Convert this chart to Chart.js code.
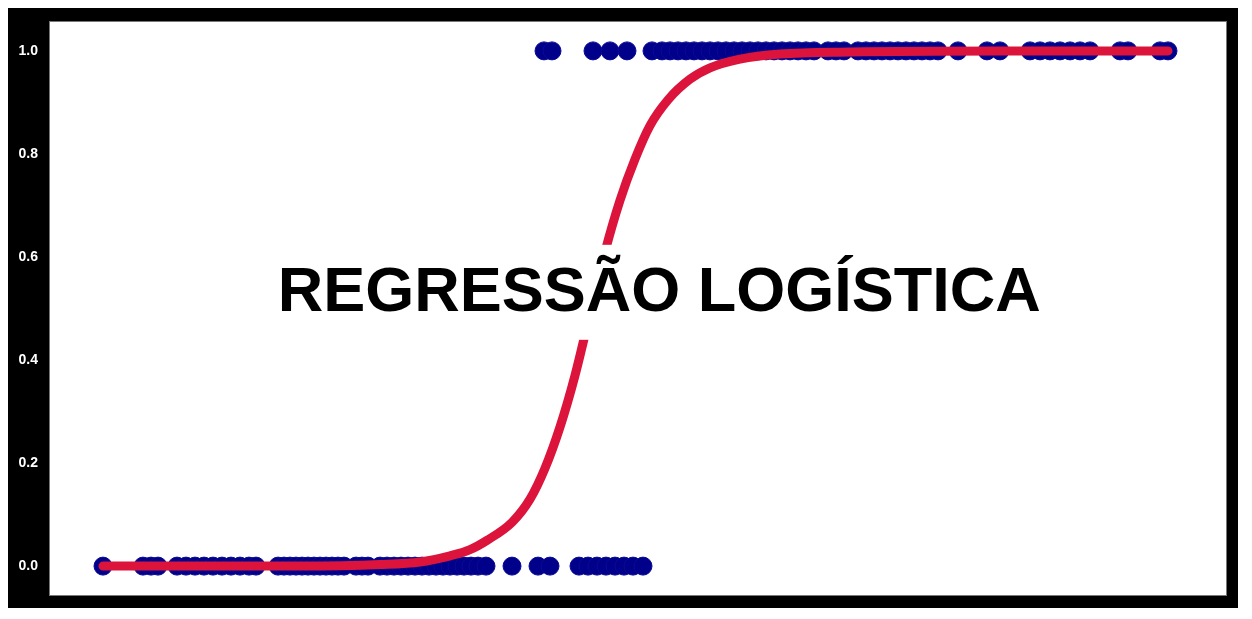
<!DOCTYPE html>
<html>
<head>
<meta charset="utf-8">
<script src="https://cdn.jsdelivr.net/npm/chart.js@4.4.1/dist/chart.umd.min.js"></script>
<style>
  html, body { margin: 0; padding: 0; background: #ffffff; }
  #frame { position: absolute; left: 8px; top: 8px; width: 1230px; height: 600px; background: #000000; }
  canvas { display: block; }
</style>
</head>
<body>
<div id="frame"><canvas id="c" width="1230" height="600"></canvas></div>
<script>
// ---- data ----
const class0X = [0, 4.0, 4.8, 5.5, 7.4, 8.3, 9.2, 10.1, 11.0, 11.9, 12.8, 13.7, 14.6, 15.3,
  17.5, 18.1, 18.7, 19.3, 19.9, 20.5, 21.1, 21.7, 22.3, 22.9, 23.5, 24.1, 25.3, 25.9, 26.5,
  27.7, 28.4, 29.1, 29.8, 30.5, 31.2, 31.9, 32.6, 33.3, 34.0, 34.7, 35.4, 36.1, 36.8, 37.5, 38.3,
  40.9, 43.5, 44.7, 47.6, 48.5, 49.4, 50.3, 51.2, 52.1, 53.0, 54.0];
const class1X = [44.1, 44.9, 49.0, 50.7, 52.4, 54.9, 55.9, 56.7, 57.5, 58.3, 59.1, 59.9, 60.7,
  61.5, 62.3, 63.1, 63.9, 64.7, 65.5, 66.3, 67.1, 67.9, 68.7, 69.5, 70.3, 71.1, 72.5, 73.3, 74.1,
  75.5, 76.3, 77.1, 77.9, 78.7, 79.5, 80.3, 81.1, 81.9, 82.7, 83.5, 85.5, 88.4, 89.7, 92.7, 93.7,
  94.7, 95.7, 96.7, 97.7, 98.7, 101.7, 102.5, 105.7, 106.5];
const curveX = [0, 9.7, 19.7, 27.7, 31.7, 34.7, 36.7, 38.4, 40.9, 42.7, 44.2, 45.7, 47.2, 48.7,
  50.2, 51.7, 53.2, 54.7, 56.5, 58.7, 60.7, 63.7, 67.7, 74.7, 89.7, 106.5];
const curveY = [0, 0, 0, 0.003, 0.008, 0.02, 0.032, 0.05, 0.085, 0.13, 0.19, 0.27, 0.37, 0.49,
  0.61, 0.71, 0.79, 0.855, 0.905, 0.945, 0.967, 0.984, 0.994, 0.998, 1.0, 1.0];
const yTickValues = [0, 0.2, 0.4, 0.6, 0.8, 1.0];
const yTickLabels = ['0.0', '0.2', '0.4', '0.6', '0.8', '1.0'];
const titleText = 'REGRESSÃO LOGÍSTICA';

const scatterPts = class0X.map(x => ({x: x, y: 0})).concat(class1X.map(x => ({x: x, y: 1})));
const curvePts = curveX.map((x, i) => ({x: x, y: curveY[i]}));

const bgPlugin = {
  id: 'bg',
  beforeDraw(chart) {
    const ctx = chart.ctx, a = chart.chartArea;
    ctx.save();
    ctx.fillStyle = '#000000';
    ctx.fillRect(0, 0, chart.width, chart.height);
    ctx.fillStyle = '#ffffff';
    ctx.fillRect(a.left, a.top, a.right - a.left, a.bottom - a.top);
    ctx.strokeStyle = '#777777';
    ctx.lineWidth = 1;
    ctx.strokeRect(a.left + 0.5, a.top + 0.5, a.right - a.left - 1, a.bottom - a.top - 1);
    ctx.restore();
  }
};

const titlePlugin = {
  id: 'bigText',
  afterDatasetsDraw(chart) {
    const ctx = chart.ctx, a = chart.chartArea;
    const cx = a.left + (a.right - a.left) * 0.518;
    const by = a.top + (a.bottom - a.top) * 0.504;
    ctx.save();
    ctx.font = 'bold 63px "Liberation Sans", Arial, sans-serif';
    const w = ctx.measureText(titleText).width;
    ctx.fillStyle = '#ffffff';
    ctx.fillRect(cx - w / 2 - 12, by - 66, w + 24, 95);
    ctx.fillStyle = '#000000';
    ctx.textAlign = 'center';
    ctx.textBaseline = 'alphabetic';
    ctx.fillText(titleText, cx, by);
    ctx.restore();
  }
};

new Chart(document.getElementById('c'), {
  type: 'scatter',
  data: {
    datasets: [
      {
        type: 'line',
        data: curvePts,
        showLine: true,
        borderColor: '#DC143C',
        borderWidth: 9,
        borderCapStyle: 'round',
        borderJoinStyle: 'round',
        pointRadius: 0,
        cubicInterpolationMode: 'monotone',
        fill: false,
        order: 0
      },
      {
        type: 'scatter',
        data: scatterPts,
        backgroundColor: '#00008B',
        borderColor: '#0a0a95',
        borderWidth: 1,
        pointRadius: 9,
        order: 1
      }
    ]
  },
  options: {
    responsive: false,
    animation: false,
    events: [],
    layout: { autoPadding: false, padding: { top: 13, right: 11, bottom: 12, left: 0 } },
    plugins: { legend: { display: false }, tooltip: { enabled: false } },
    scales: {
      x: {
        type: 'linear',
        min: -5.4,
        max: 112.4,
        display: false
      },
      y: {
        type: 'linear',
        min: -0.058,
        max: 1.058,
        border: { display: false },
        grid: { display: false, drawTicks: false },
        afterBuildTicks(scale) {
          scale.ticks = yTickValues.map(v => ({value: v}));
        },
        afterFit(scale) {
          scale.width = 41;
          scale.paddingTop = 0;
          scale.paddingBottom = 0;
        },
        ticks: {
          color: '#ffffff',
          padding: 11,
          font: { family: '"Liberation Sans", Arial, sans-serif', size: 14, weight: 'bold' },
          callback(value) {
            const i = yTickValues.findIndex(v => Math.abs(v - value) < 1e-9);
            return i >= 0 ? yTickLabels[i] : '';
          }
        }
      }
    }
  },
  plugins: [bgPlugin, titlePlugin]
});
</script>
</body>
</html>
